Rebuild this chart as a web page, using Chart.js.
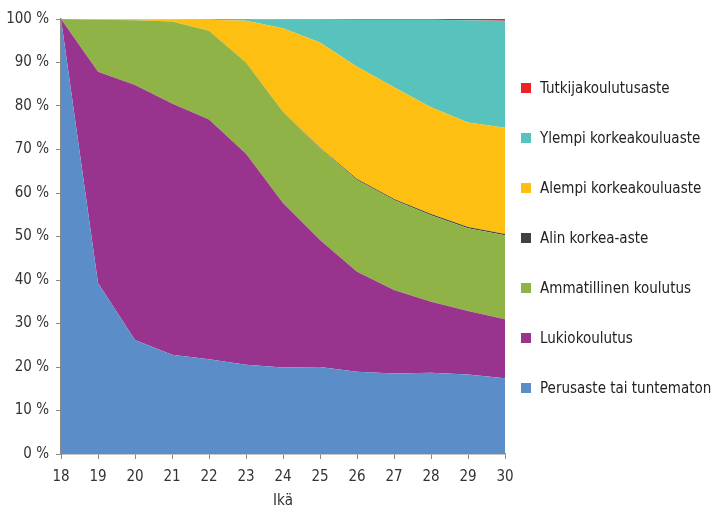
<!DOCTYPE html>
<html>
<head>
<meta charset="utf-8">
<script src="https://cdn.jsdelivr.net/npm/chart.js@4"></script>
<style>
  body { margin: 0; background: #fff; }
  #wrap { position: relative; width: 711px; height: 510px; }
  #legend { position: absolute; left: 521px; top: 78px; font-family: "DejaVu Sans Condensed", Roboto, sans-serif; font-size: 15px; color: #222; }
  .item { position: absolute; left: 0; height: 20px; white-space: nowrap; }
  .sw { position: absolute; left: 0; top: 5px; width: 10px; height: 10px; }
  .lb { position: absolute; left: 19px; top: 0; line-height: 20px; }
</style>
</head>
<body>
<div id="wrap">
  <canvas id="chart" width="711" height="510"></canvas>
  <div id="legend"></div>
</div>
<script>
const ages = ['18', '19', '20', '21', '22', '23', '24', '25', '26', '27', '28', '29', '30'];

const perusaste   = [100, 39.3, 26.2, 22.8, 21.8, 20.5, 19.9, 20.0, 18.9, 18.5, 18.7, 18.3, 17.4];
const lukio       = [0, 48.6, 58.6, 57.8, 55.1, 48.5, 37.8, 29.2, 23.0, 19.2, 16.3, 14.6, 13.6];
const ammatill    = [0, 11.9, 14.9, 18.8, 20.4, 21.0, 21.0, 21.1, 21.1, 20.7, 19.9, 19.0, 19.3];
const alinKorkea  = [0, 0, 0, 0, 0, 0, 0, 0.1, 0.2, 0.2, 0.3, 0.3, 0.3];
const alempiKork  = [0, 0.1, 0.2, 0.5, 2.5, 9.6, 19.2, 24.2, 25.8, 25.7, 24.5, 24.0, 24.4];
const ylempiKork  = [0, 0.1, 0.1, 0.1, 0.2, 0.4, 2.0, 5.3, 10.8, 15.5, 20.1, 23.5, 24.6];
const tutkija     = [0, 0, 0, 0, 0, 0, 0.1, 0.1, 0.2, 0.2, 0.2, 0.3, 0.4];

const seriesNames = ['Perusaste tai tuntematon', 'Lukiokoulutus', 'Ammatillinen koulutus', 'Alin korkea-aste',
                     'Alempi korkeakouluaste', 'Ylempi korkeakouluaste', 'Tutkijakoulutusaste'];
const seriesData = [perusaste, lukio, ammatill, alinKorkea, alempiKork, ylempiKork, tutkija];
const seriesColors = ['#5b8ec9', '#98338e', '#90b348', '#404040', '#fdbf12', '#57c3bc', '#ec2227'];

const fontFamily = '"DejaVu Sans Condensed", Roboto, sans-serif';

const datasets = seriesNames.map((name, i) => ({
    label: name,
    data: seriesData[i],
    backgroundColor: seriesColors[i],
    borderColor: seriesColors[i],
    borderWidth: 0,
    pointRadius: 0,
    tension: 0,
    fill: i === 0 ? 'origin' : '-1'
}));

new Chart(document.getElementById('chart').getContext('2d'), {
    type: 'line',
    data: { labels: ages, datasets: datasets },
    options: {
        responsive: false,
        animation: false,
        layout: { padding: { left: 0, top: 19, right: 206, bottom: 0 } },
        plugins: { legend: { display: false }, tooltip: { enabled: false } },
        scales: {
            x: {
                offset: false,
                grid: { display: true, drawOnChartArea: false, drawTicks: true, tickLength: 5, color: '#8a8a8a' },
                border: { display: true, color: '#8a8a8a', width: 1.5 },
                ticks: { color: '#333', padding: 9, font: { family: fontFamily, size: 15 }, maxRotation: 0 },
                title: { display: true, text: 'Ikä', color: '#333', padding: { top: 8, bottom: 0 }, font: { family: fontFamily, size: 15 } },
                afterFit: s => { s.height = 56; }
            },
            y: {
                stacked: true,
                min: 0,
                max: 100,
                grid: { display: true, drawOnChartArea: false, drawTicks: true, tickLength: 5, color: '#8a8a8a' },
                border: { display: true, color: '#8a8a8a', width: 1.5 },
                ticks: { stepSize: 10, color: '#333', padding: 7, font: { family: fontFamily, size: 15 },
                         callback: v => v + ' %' },
                afterFit: s => { s.width = 61; }
            }
        }
    }
});

// legend, top to bottom in reverse stacking order
const legend = document.getElementById('legend');
for (let k = 0; k < seriesNames.length; k++) {
    const i = seriesNames.length - 1 - k;
    const item = document.createElement('div');
    item.className = 'item';
    item.style.top = (k * 50) + 'px';
    item.innerHTML = '<span class="sw" style="background:' + seriesColors[i] + '"></span><span class="lb">' + seriesNames[i] + '</span>';
    legend.appendChild(item);
}
</script>
</body>
</html>
